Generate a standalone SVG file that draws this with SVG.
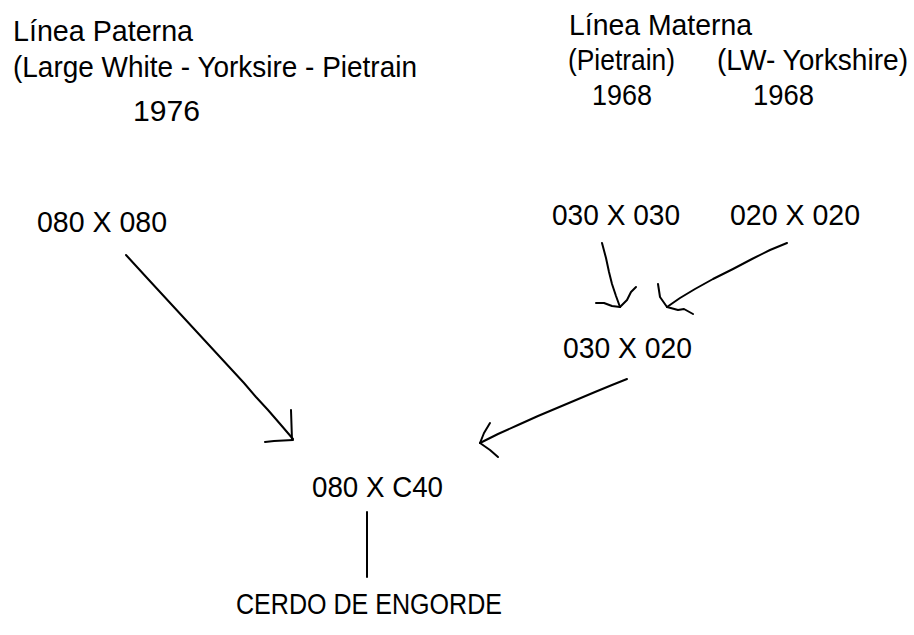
<svg xmlns="http://www.w3.org/2000/svg" width="914" height="635" viewBox="0 0 914 635">
<style>
text{font-family:"Liberation Sans",Arial,sans-serif;font-size:29px;fill:#000}
.c{fill:none;stroke:#000;stroke-width:2;stroke-linecap:round;stroke-linejoin:round}
</style>
<rect width="914" height="635" fill="#fff"/>
<g id="header-paterna">
<text x="13" y="41" textLength="180" lengthAdjust="spacingAndGlyphs">Línea Paterna</text>
<text x="13" y="77" textLength="404" lengthAdjust="spacingAndGlyphs">(Large White - Yorksire - Pietrain</text>
<text x="133" y="121" textLength="67" lengthAdjust="spacingAndGlyphs">1976</text>
</g>
<g id="header-materna">
<text x="569" y="35" textLength="183" lengthAdjust="spacingAndGlyphs">Línea Materna</text>
<text x="568" y="70" textLength="107" lengthAdjust="spacingAndGlyphs">(Pietrain)</text>
<text x="717" y="70" textLength="191" lengthAdjust="spacingAndGlyphs">(LW- Yorkshire)</text>
<text x="592" y="105" textLength="60" lengthAdjust="spacingAndGlyphs">1968</text>
<text x="753" y="105" textLength="61" lengthAdjust="spacingAndGlyphs">1968</text>
</g>
<g id="n080x080"><text x="37" y="232" textLength="130" lengthAdjust="spacingAndGlyphs">080 X 080</text></g>
<g id="n030x030"><text x="552" y="225" textLength="128" lengthAdjust="spacingAndGlyphs">030 X 030</text></g>
<g id="n020x020"><text x="730" y="225" textLength="130" lengthAdjust="spacingAndGlyphs">020 X 020</text></g>
<g id="n030x020"><text x="563" y="358" textLength="129" lengthAdjust="spacingAndGlyphs">030 X 020</text></g>
<g id="n080xc40"><text x="312" y="497" textLength="131" lengthAdjust="spacingAndGlyphs">080 X C40</text></g>
<g id="ncerdo"><text x="236" y="614" textLength="266" lengthAdjust="spacingAndGlyphs">CERDO DE ENGORDE</text></g>
<g id="connectors">
<polyline class="c" points="126,255 137,267 148,279 160,292 172,305 184,318 196,331 208,344 220,357 232,370 244,383 256,397 268,410 281,425 293,439"/>
<polyline class="c" points="291,410 292,440"/>
<polyline class="c" points="265,442 274,441 293,440"/>
<polyline class="c" points="602,243 606,258 609,272 612,284 616,296 620,307"/>
<polyline class="c" points="596,303 604,303 612,306 620,307"/>
<polyline class="c" points="620,307 627,300 631,292 636,287"/>
<polyline class="c" points="787,243 770,250 752,259 733,269 713,279 695,289 680,298 667,307"/>
<polyline class="c" points="658,284 660,297 667,307"/>
<polyline class="c" points="667,307 678,310 684,309 693,314"/>
<polyline class="c" points="627,379 612,385 595,392 576,400 557,408 538,416 518,425 498,434 480,443"/>
<polyline class="c" points="490,423 484,433 480,443"/>
<polyline class="c" points="480,443 490,450 498,457"/>
<polyline class="c" points="367,512 367,577"/>
</g>
</svg>
